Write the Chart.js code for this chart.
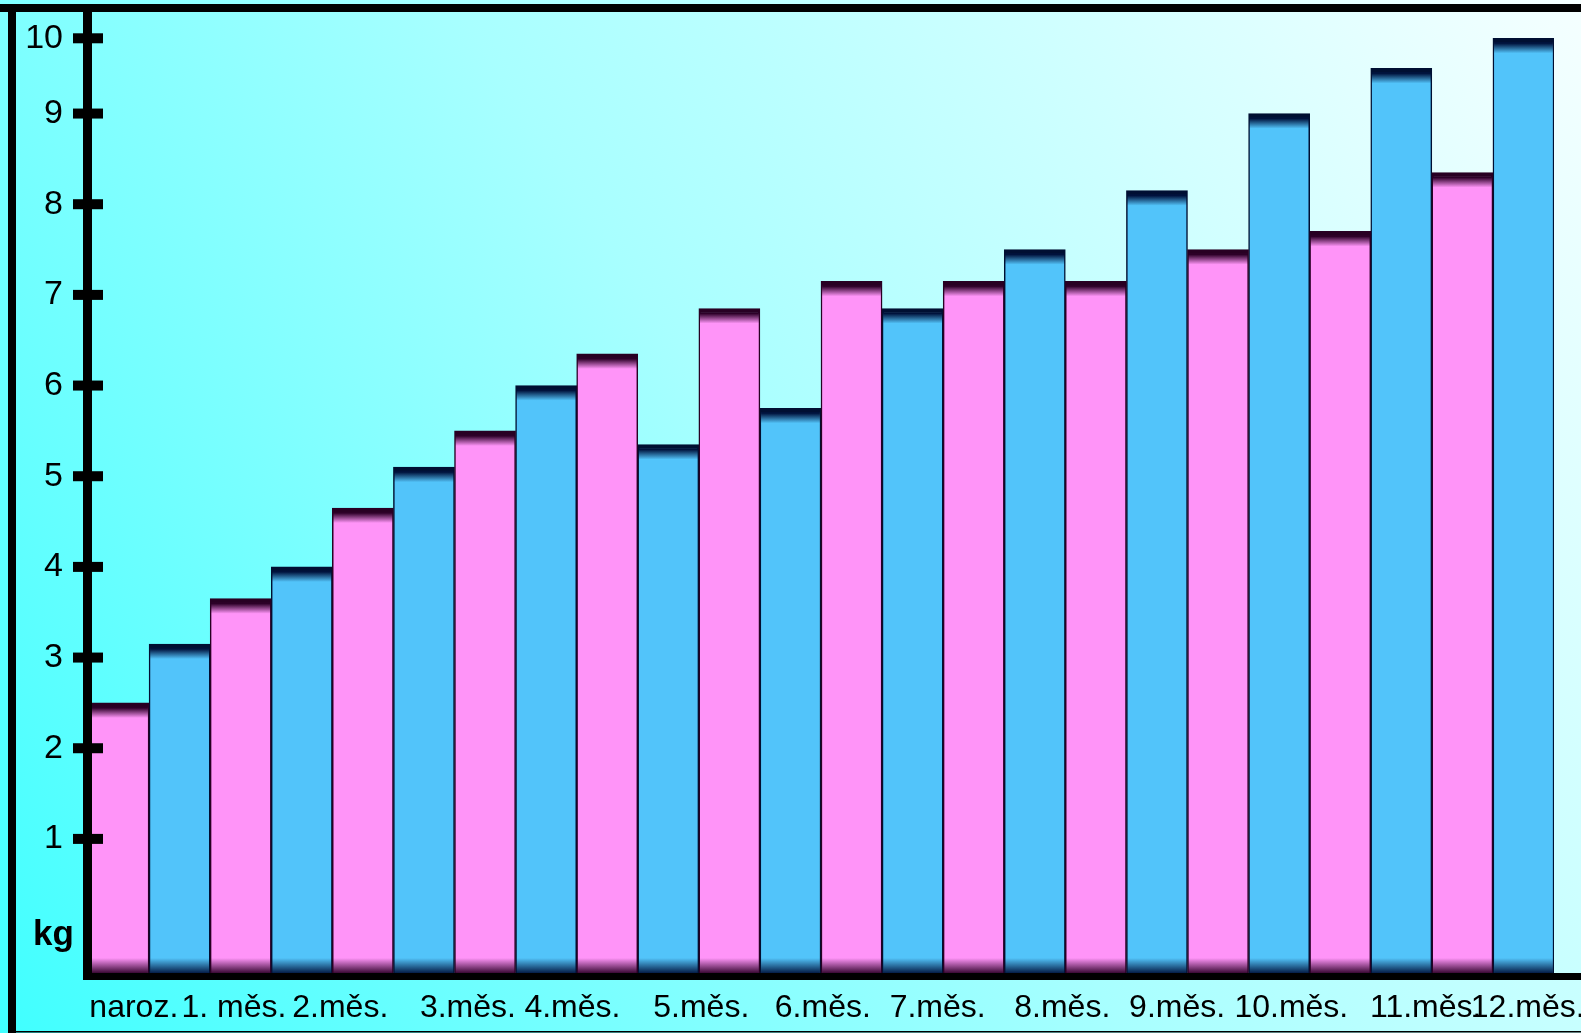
<!DOCTYPE html>
<html>
<head>
<meta charset="utf-8">
<script src="https://cdn.jsdelivr.net/npm/chart.js@4.4.1/dist/chart.umd.min.js"></script>
<style>
  html, body { margin: 0; padding: 0; background: #fff; }
  canvas { display: block; }
</style>
</head>
<body>
<canvas id="graf" width="1581" height="1033"></canvas>
<script>
// popisky pod osou x (13 kusu, nesedi presne na dvojice sloupcu)
const mesice = ['naroz.', '1. měs.', '2.měs.', '3.měs.', '4.měs.', '5.měs.', '6.měs.',
                '7.měs.', '8.měs.', '9.měs.', '10.měs.', '11.měs.', '12.měs.'];
// kde pod sloupci popisek stoji (v jednotkach sloupcu, 0..24)
const mesicePoz = [0.75, 2.39, 4.13, 6.22, 7.93, 10.04, 12.03, 13.91, 15.95, 17.83, 19.7, 21.9, 23.57];

// hmotnost v kg - ruzove a modre sloupce, stridave
const ruzove = [2.5, 3.65, 4.65, 5.5, 6.35, 6.85, 7.15, 7.15, 7.15, 7.5, 7.7, 8.35];
const modre  = [3.15, 4.0, 5.1, 6.0, 5.35, 5.75, 6.85, 7.5, 8.15, 9.0, 9.6, 10.0];

// znacky na ose y
const osaY = [1, 2, 3, 4, 5, 6, 7, 8, 9, 10];

// osa y v originale neni rovnomerna: 0-1 je vyssi, 9-10 nizsi
const dilky = [0, 1.49, 2.49, 3.49, 4.49, 5.49, 6.49, 7.49, 8.49, 9.49, 10.32];
const dilkyMax = 10.61;

function kgNaDilek(v) {
    if (v <= 0) return 0;
    if (v >= 10) return dilky[10] + (v - 10) * (dilky[10] - dilky[9]);
    const i = Math.floor(v);
    return dilky[i] + (v - i) * (dilky[i + 1] - dilky[i]);
}
function dilekNaKg(d) {
    if (d <= 0) return 0;
    if (d >= dilky[10]) return 10 + (d - dilky[10]) / (dilky[10] - dilky[9]);
    let i = 0;
    while (dilky[i + 1] < d) i++;
    return i + (d - dilky[i]) / (dilky[i + 1] - dilky[i]);
}

class KgScale extends Chart.LinearScale {
    static id = 'kg';
    static defaults = {};
    getPixelForValue(value) {
        if (value === null || value === undefined) return NaN;
        return this.getPixelForDecimal(kgNaDilek(value) / dilkyMax);
    }
    getValueForPixel(pixel) {
        return dilekNaKg(this.getDecimalForPixel(pixel) * dilkyMax);
    }
}
Chart.register(KgScale);

Chart.defaults.font.family = '"Liberation Sans", Arial, sans-serif';
Chart.defaults.color = '#000';

function vyplnSloupce(zaklad, tmava) {
    return function(c) {
        const chart = c.chart;
        if (!chart.chartArea || c.type !== 'data') return zaklad;
        const y = chart.scales.y;
        const horni = y.getPixelForValue(c.raw);
        const dolni = y.getBasePixel();
        const L = dolni - horni;
        if (L < 40) return zaklad;
        const g = chart.ctx.createLinearGradient(0, horni, 0, dolni);
        g.addColorStop(0, tmava);
        g.addColorStop(5 / L, tmava);
        g.addColorStop(15 / L, zaklad);
        g.addColorStop(1 - 16 / L, zaklad);
        g.addColorStop(1, tmava);
        return g;
    };
}

const dekorace = {
    id: 'dekorace',
    beforeDraw(chart) {
        const ctx = chart.ctx, W = chart.width, H = chart.height;
        const g = ctx.createLinearGradient(0, H, W, 0);
        g.addColorStop(0, 'rgb(64,255,255)');
        g.addColorStop(0.5, 'rgb(168,255,255)');
        g.addColorStop(1, 'rgb(245,255,255)');
        ctx.save();
        ctx.fillStyle = g;
        ctx.fillRect(0, 0, W, H);
        ctx.restore();
    },
    afterDraw(chart) {
        const ctx = chart.ctx, W = chart.width, H = chart.height;
        const a = chart.chartArea;
        const y = chart.scales.y;
        ctx.save();
        ctx.fillStyle = '#000';
        // ramecek
        ctx.fillRect(0, 4, W, 8);
        ctx.fillRect(8, 4, 8, H - 4);
        ctx.fillRect(8, 1031, W, 1.5);
        // osy
        ctx.fillRect(a.left - 5, 4, 9, a.bottom + 5 - 4);
        ctx.fillRect(a.left - 5, a.bottom - 1, W - a.left + 5, 7);
        // znacky pres osu y
        y.ticks.forEach(t => {
            const py = y.getPixelForValue(t.value);
            ctx.fillRect(a.left - 15, py - 5, 30, 10);
        });
        // jednotka
        ctx.font = 'bold 35px "Liberation Sans", Arial, sans-serif';
        ctx.textBaseline = 'alphabetic';
        ctx.textAlign = 'left';
        ctx.fillText('kg', 33, 945);
        ctx.restore();
    }
};

const ctx = document.getElementById('graf').getContext('2d');
new Chart(ctx, {
    type: 'bar',
    data: {
        labels: ruzove.map((_, i) => String(i + 1)),
        datasets: [{
            label: 'růžové',
            data: ruzove,
            xAxisID: 'x',
            yAxisID: 'y',
            backgroundColor: vyplnSloupce('rgb(255,148,248)', 'rgb(45,0,40)'),
            borderColor: 'rgb(40,0,35)',
            borderWidth: { top: 4, left: 1.5, right: 1.5, bottom: 0 },
            borderSkipped: 'bottom'
        }, {
            label: 'modré',
            data: modre,
            xAxisID: 'x',
            yAxisID: 'y',
            backgroundColor: vyplnSloupce('rgb(82,196,250)', 'rgb(0,18,60)'),
            borderColor: 'rgb(0,15,50)',
            borderWidth: { top: 4, left: 1.5, right: 1.5, bottom: 0 },
            borderSkipped: 'bottom'
        }]
    },
    options: {
        responsive: false,
        animation: false,
        devicePixelRatio: 1,
        layout: { padding: { top: 12, right: 27, left: 0, bottom: 0 } },
        categoryPercentage: 1,
        barPercentage: 1,
        plugins: {
            legend: { display: false },
            tooltip: { enabled: false }
        },
        scales: {
            x: {
                type: 'category',
                display: false
            },
            popisky: {
                type: 'linear',
                position: 'bottom',
                offset: false,
                min: 0,
                max: 24,
                grid: { display: false, drawTicks: false },
                border: { display: false },
                afterBuildTicks: s => { s.ticks = mesicePoz.map(v => ({ value: v })); },
                afterFit: s => {
                    s.height = 59;
                    s.paddingLeft = 0;
                    s.paddingRight = 0;
                },
                ticks: {
                    autoSkip: false,
                    maxRotation: 0,
                    padding: 15,
                    font: { size: 32 },
                    color: '#000',
                    callback: (v, i) => mesice[i]
                }
            },
            y: {
                type: 'kg',
                position: 'left',
                min: 0,
                max: 10.35,
                grid: { display: false, drawTicks: false },
                border: { display: false },
                afterBuildTicks: s => { s.ticks = osaY.map(v => ({ value: v })); },
                afterFit: s => {
                    s.width = 88;
                    s.paddingTop = 0;
                    s.paddingBottom = 0;
                },
                ticks: {
                    padding: 25,
                    font: { size: 34 },
                    color: '#000',
                    callback: v => String(v)
                }
            }
        }
    },
    plugins: [dekorace]
});
</script>
</body>
</html>
